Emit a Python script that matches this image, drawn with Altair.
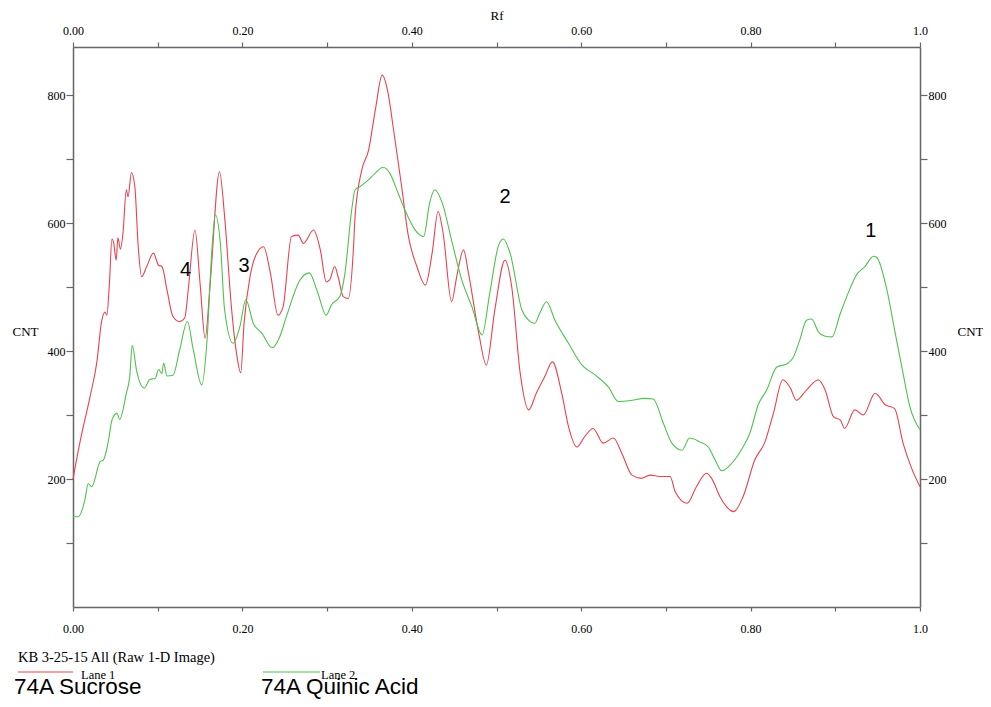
import altair as alt
import pandas as pd

# ---- data ----
red_x = [0.000, 0.008, 0.020, 0.028, 0.034, 0.038, 0.040, 0.043, 0.046, 0.048, 0.051, 0.053, 0.056, 0.059,
         0.063, 0.065, 0.069, 0.073, 0.077, 0.081, 0.087, 0.095, 0.101, 0.105, 0.111, 0.118, 0.126, 0.132,
         0.136, 0.144, 0.150, 0.156, 0.162, 0.173, 0.179, 0.187, 0.193, 0.198, 0.202, 0.209, 0.215, 0.225,
         0.233, 0.242, 0.248, 0.258, 0.266, 0.272, 0.284, 0.292, 0.299, 0.303, 0.309, 0.313, 0.319, 0.325,
         0.331, 0.333, 0.341, 0.349, 0.357, 0.365, 0.372, 0.378, 0.388, 0.396, 0.406, 0.416, 0.424, 0.431,
         0.437, 0.447, 0.453, 0.461, 0.467, 0.479, 0.488, 0.498, 0.510, 0.518, 0.528, 0.538, 0.547, 0.557,
         0.566, 0.577, 0.585, 0.595, 0.604, 0.614, 0.626, 0.638, 0.648, 0.660, 0.671, 0.681, 0.693, 0.705,
         0.711, 0.725, 0.736, 0.748, 0.754, 0.764, 0.780, 0.791, 0.805, 0.817, 0.827, 0.838, 0.847, 0.854,
         0.866, 0.880, 0.888, 0.898, 0.906, 0.911, 0.923, 0.933, 0.947, 0.959, 0.970, 0.980, 0.990, 1.000]
red_y = [200, 256, 328, 381, 448, 461, 456, 506, 575, 569, 542, 577, 559, 584,
         652, 641, 679, 657, 563, 516, 532, 553, 534, 532, 495, 454, 446, 452,
         495, 589, 506, 420, 506, 680, 610, 469, 397, 366, 444, 516, 547, 563,
         522, 456, 469, 579, 581, 568, 589, 558, 508, 511, 532, 516, 485, 482,
         558, 610, 683, 714, 777, 831, 803, 750, 657, 579, 532, 503, 553, 618,
         584, 477, 516, 558, 521, 428, 378, 464, 542, 500, 365, 308, 334, 360,
         383, 334, 282, 250, 266, 279, 256, 264, 240, 206, 201, 206, 204, 204,
         180, 162, 188, 209, 201, 172, 149, 172, 230, 258, 303, 355, 342, 323,
         339, 355, 339, 297, 292, 279, 308, 300, 334, 316, 310, 256, 217, 188]

green_x = [0.000, 0.006, 0.014, 0.018, 0.022, 0.032, 0.036, 0.042, 0.046, 0.052, 0.055, 0.063, 0.067,
           0.070, 0.075, 0.084, 0.091, 0.097, 0.101, 0.105, 0.107, 0.111, 0.118, 0.126, 0.135, 0.142,
           0.152, 0.158, 0.164, 0.168, 0.174, 0.179, 0.189, 0.197, 0.204, 0.213, 0.223, 0.235, 0.244,
           0.252, 0.268, 0.279, 0.288, 0.299, 0.305, 0.315, 0.321, 0.329, 0.333, 0.339, 0.345, 0.357,
           0.366, 0.374, 0.384, 0.392, 0.404, 0.414, 0.421, 0.427, 0.436, 0.447, 0.459, 0.471, 0.483,
           0.492, 0.502, 0.508, 0.516, 0.530, 0.538, 0.545, 0.551, 0.559, 0.569, 0.585, 0.601, 0.616,
           0.632, 0.644, 0.660, 0.674, 0.685, 0.697, 0.707, 0.719, 0.728, 0.740, 0.750, 0.758, 0.766,
           0.778, 0.791, 0.799, 0.809, 0.819, 0.831, 0.843, 0.850, 0.858, 0.866, 0.872, 0.880, 0.888,
           0.896, 0.906, 0.915, 0.925, 0.935, 0.945, 0.949, 0.961, 0.970, 0.980, 0.988, 1.000]
green_y = [141, 141, 167, 193, 188, 227, 230, 261, 292, 303, 293, 334, 360,
           409, 370, 342, 356, 357, 371, 365, 381, 361, 362, 402, 446, 402,
           347, 412, 558, 613, 568, 464, 412, 438, 480, 443, 428, 405, 422,
           454, 511, 522, 495, 456, 472, 485, 521, 620, 652, 657, 663, 678,
           687, 678, 646, 620, 589, 579, 631, 652, 631, 573, 511, 469, 425,
           490, 563, 575, 553, 464, 448, 443, 459, 477, 448, 412, 378, 363,
           344, 321, 323, 326, 325, 287, 256, 245, 264, 258, 250, 230, 213,
           225, 250, 271, 316, 339, 375, 380, 389, 417, 448, 450, 430, 423,
           422, 459, 490, 519, 532, 548, 546, 495, 433, 365, 313, 277]

lanes = ["Lane 1", "Lane 2"]
lane_colors = ["#e8424e", "#4fc24f"]

peak_labels = ["4", "3", "2", "1"]
peak_x = [0.133, 0.202, 0.510, 0.942]
peak_y = [527, 533, 641, 588]

x_ticks = [0.0, 0.1, 0.2, 0.3, 0.4, 0.5, 0.6, 0.7, 0.8, 0.9, 1.0]
y_ticks = [100, 200, 300, 400, 500, 600, 700, 800]

df = pd.concat([
    pd.DataFrame({"rf": red_x, "cnt": red_y, "lane": lanes[0]}),
    pd.DataFrame({"rf": green_x, "cnt": green_y, "lane": lanes[1]}),
])
peaks = pd.DataFrame({"rf": peak_x, "cnt": peak_y, "label": peak_labels})

SERIF = "Liberation Serif"
SANS = "Liberation Sans"
AXC = "#666666"

xs = alt.Scale(domain=[0, 1], nice=False, zero=False)
ys = alt.Scale(domain=[0, 875], nice=False)

x_label_expr = "datum.value > 0.99 ? '1.0' : (round(datum.value * 10) % 2 == 0 ? format(datum.value, '.2f') : '')"
y_label_expr = "datum.value % 200 == 0 ? format(datum.value, 'd') : ''"

common_axis = dict(grid=False, domainColor=AXC, domainWidth=1.5, tickColor=AXC, tickWidth=1.2,
                   labelFont=SERIF, labelFontSize=12, labelColor="black", labelFlush=False,
                   titleFont=SERIF, titleFontSize=13, titleFontWeight="normal", titleColor="black")

bottom_axis = alt.Axis(orient="bottom", values=x_ticks, labelExpr=x_label_expr, title=None,
                       tickSize=4, labelPadding=12, **common_axis)
top_axis = alt.Axis(orient="top", values=x_ticks, labelExpr=x_label_expr, title="Rf",
                    tickSize=5, labelPadding=5, titlePadding=2, **common_axis)
left_axis = alt.Axis(orient="left", values=y_ticks, labelExpr=y_label_expr, title="CNT",
                     titleAngle=0, titleX=-48, titleY=284, titleAlign="center", titleBaseline="middle",
                     tickSize=7, labelPadding=1, **common_axis)
right_axis = alt.Axis(orient="right", values=y_ticks, labelExpr=y_label_expr, title="CNT",
                      titleAngle=0, titleX=50, titleY=284, titleAlign="center", titleBaseline="middle",
                      tickSize=7, labelPadding=1, **common_axis)

color = alt.Color("lane:N", scale=alt.Scale(domain=lanes, range=lane_colors), legend=None)

lines = alt.Chart(df).mark_line(strokeWidth=1.1, interpolate="monotone").encode(
    x=alt.X("rf:Q", scale=xs, axis=bottom_axis),
    y=alt.Y("cnt:Q", scale=ys, axis=left_axis),
    color=color,
    detail="lane:N",
)

peak_text = alt.Chart(peaks).mark_text(font=SANS, fontSize=20, color="black",
                                       align="center", baseline="middle").encode(
    x=alt.X("rf:Q", scale=xs, axis=top_axis),
    y=alt.Y("cnt:Q", scale=ys, axis=right_axis),
    text="label:N",
)

one = pd.DataFrame({"k": [0]})


def label(txt, px, py, font, size, baseline="middle"):
    return alt.Chart(one).mark_text(font=font, fontSize=size, color="black",
                                    align="left", baseline=baseline).encode(
        x=alt.value(px), y=alt.value(py), text=alt.value(txt))


def swatch(col, px1, px2, py):
    return alt.Chart(one).mark_rule(color=col, strokeWidth=1.2).encode(
        x=alt.value(px1), x2=alt.value(px2), y=alt.value(py))


extras = [
    label("KB 3-25-15 All (Raw 1-D Image)", -55, 611, SERIF, 14.5),
    swatch(lane_colors[0], -55, 0, 625),
    label("Lane 1", 8, 628, SERIF, 12.5),
    label("74A Sucrose", -59, 647, SANS, 22.5, baseline="alphabetic"),
    swatch(lane_colors[1], 190, 247, 625),
    label("Lane 2", 248, 628, SERIF, 12.5),
    label("74A Quinic Acid", 188, 647, SANS, 22.5, baseline="alphabetic"),
]

chart = alt.layer(lines, peak_text, *extras).resolve_scale(
    x="shared", y="shared"
).resolve_axis(
    x="independent", y="independent"
).properties(
    width=847, height=560,
    autosize=alt.AutoSizeParams(type="none"),
    padding={"left": 65, "top": 39, "right": 63, "bottom": 92},
).configure_view(stroke=None)

chart.save("out.html", embed_options={"renderer": "svg", "actions": False})
